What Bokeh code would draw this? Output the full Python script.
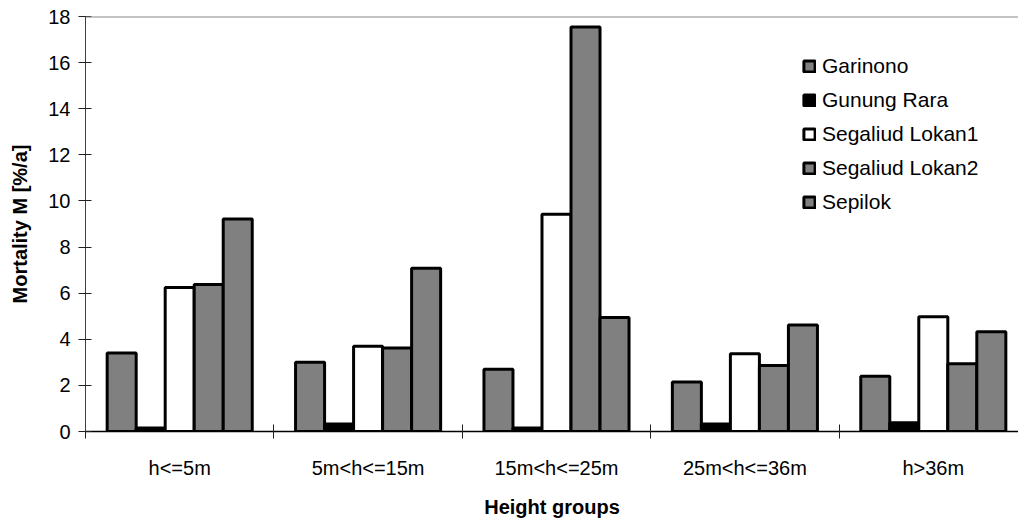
from bokeh.plotting import figure
from bokeh.models import FixedTicker, Span, Legend, LegendItem, ColumnDataSource
from bokeh.embed import file_html
from bokeh.resources import INLINE

groups = ["h<=5m", "5m<h<=15m", "15m<h<=25m", "25m<h<=36m", "h>36m"]
series = ["Garinono", "Gunung Rara", "Segaliud Lokan1", "Segaliud Lokan2", "Sepilok"]
garinono = [3.4, 3.0, 2.7, 2.15, 2.4]
gunung_rara = [0.15, 0.33, 0.15, 0.32, 0.38]
segaliud_lokan1 = [6.25, 3.7, 9.42, 3.37, 4.98]
segaliud_lokan2 = [6.38, 3.62, 17.55, 2.86, 2.94]
sepilok = [9.22, 7.08, 4.95, 4.62, 4.33]
y_ticks = [0, 2, 4, 6, 8, 10, 12, 14, 16, 18]

values = [garinono, gunung_rara, segaliud_lokan1, segaliud_lokan2, sepilok]
fills = ["#808080", "#000000", "#ffffff", "#808080", "#808080"]

FONT = "Liberation Sans"
W, H = 1018, 520
left, top, bottom = 85, 16, 88
cat_px = 188.4
x_end = (W - left) / cat_px

p = figure(width=W, height=H, output_backend="svg", toolbar_location=None,
           x_range=(0, x_end), y_range=(0, 18),
           min_border_left=left, min_border_right=0, min_border_top=top,
           min_border_bottom=bottom)
p.outline_line_color = None
p.xgrid.visible = False
p.ygrid.visible = False
p.background_fill_color = "white"
p.border_fill_color = "white"

bw = 0.154
items = []
for j, (name, vals, fc) in enumerate(zip(series, values, fills)):
    xs = [i + 0.5 + (j - 2) * bw for i in range(len(groups))]
    src = ColumnDataSource(dict(x=xs, top=vals))
    r = p.vbar(x="x", top="top", bottom=0, width=bw, source=src,
               fill_color=fc, line_color="black", line_width=3)
    items.append(LegendItem(label=name, renderers=[r]))

# top border line
p.add_layout(Span(location=18, dimension="width", line_color="#8a8a8a", line_width=2))

# y axis
ya = p.yaxis[0]
ya.ticker = FixedTicker(ticks=y_ticks, minor_ticks=[])
ya.axis_line_color = "#404040"
ya.axis_line_width = 1
ya.major_tick_in = 6
ya.major_tick_out = 7
ya.major_tick_line_color = "#202020"
ya.minor_tick_line_color = None
ya.major_label_text_font = FONT
ya.major_label_text_font_size = "20px"
ya.major_label_text_color = "black"
ya.major_label_standoff = 8
ya.axis_label = "Mortality M [%/a]"
ya.axis_label_text_font = FONT
ya.axis_label_text_font_size = "20px"
ya.axis_label_text_font_style = "bold"
ya.axis_label_text_color = "black"
ya.axis_label_standoff = 14

# x axis
xa = p.xaxis[0]
xa.ticker = FixedTicker(ticks=[i + 0.5 for i in range(len(groups))],
                        minor_ticks=[float(i) for i in range(len(groups) + 1)])
xa.major_label_overrides = {i + 0.5: g for i, g in enumerate(groups)}
xa.major_tick_in = 0
xa.major_tick_out = 0
xa.minor_tick_in = 7
xa.minor_tick_out = 7
xa.minor_tick_line_color = "#202020"
xa.axis_line_color = "black"
xa.axis_line_width = 1.5
xa.major_label_text_font = FONT
xa.major_label_text_font_size = "20px"
xa.major_label_text_color = "black"
xa.major_label_standoff = 18
xa.axis_label = "Height groups"
xa.axis_label_text_font = FONT
xa.axis_label_text_font_size = "20px"
xa.axis_label_text_font_style = "bold"
xa.axis_label_text_color = "black"
xa.axis_label_standoff = 14

legend = Legend(items=items, location=(717, 217), padding=0, margin=0,
                spacing=10, label_height=24, glyph_height=14, glyph_width=14,
                label_standoff=6, border_line_color=None,
                background_fill_alpha=0,
                label_text_font=FONT, label_text_font_size="21px",
                label_text_color="black")
p.add_layout(legend, "center")

open("out.html", "w").write(file_html(p, INLINE))
